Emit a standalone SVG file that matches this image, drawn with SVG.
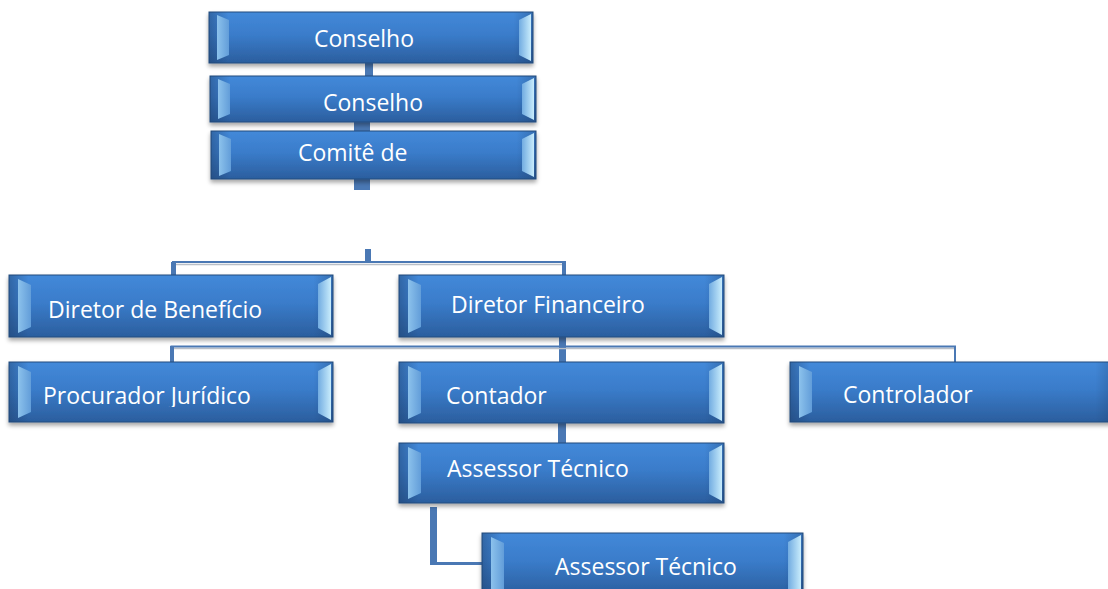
<svg xmlns="http://www.w3.org/2000/svg" width="1108" height="589" viewBox="0 0 1108 589">
<defs>
<linearGradient id="boxg" x1="0" y1="0" x2="0" y2="1">
<stop offset="0" stop-color="#4389d9"/>
<stop offset="0.45" stop-color="#3a7cca"/>
<stop offset="1" stop-color="#2b5e9e"/>
</linearGradient>
<linearGradient id="edgeg" x1="0" y1="0" x2="1" y2="0">
<stop offset="0" stop-color="#1e3f6a" stop-opacity="0.45"/>
<stop offset="0.06" stop-color="#1e3f6a" stop-opacity="0"/>
<stop offset="0.94" stop-color="#1e3f6a" stop-opacity="0"/>
<stop offset="1" stop-color="#1e3f6a" stop-opacity="0.35"/>
</linearGradient>
<linearGradient id="bevL" x1="0" y1="0" x2="1" y2="0">
<stop offset="0" stop-color="#8cc2ec"/>
<stop offset="1" stop-color="#629dd9"/>
</linearGradient>
<linearGradient id="bevR" x1="0" y1="0" x2="1" y2="0">
<stop offset="0" stop-color="#72ace1"/>
<stop offset="1" stop-color="#c8ecfc"/>
</linearGradient>
<filter id="sh" x="-5%" y="-20%" width="110%" height="150%">
<feDropShadow dx="0" dy="3" stdDeviation="2" flood-color="#000" flood-opacity="0.35"/>
</filter>
<clipPath id="clipProc"><rect x="0" y="362" width="340" height="45"/></clipPath>
</defs>
<style>
.box{fill:url(#boxg);stroke:#254d7e;stroke-width:1;filter:url(#sh)}
.edge{fill:url(#edgeg)}
.bl{fill:url(#bevL)}
.br{fill:url(#bevR)}
.t{font-family:"Open Sans","Noto Sans","DejaVu Sans",sans-serif;font-size:23px;fill:#ffffff}
.thick{fill:#4a78b4}
.thin{stroke:#4a78b4;stroke-width:2;fill:none}
.thinsh{stroke:#b9bfc8;stroke-width:1.5;fill:none}
</style>

<g id="connectors">
<rect class="thick" x="365" y="63" width="8" height="13"/>
<rect class="thick" x="354" y="122" width="16" height="9"/>
<rect class="thick" x="354" y="179" width="16" height="11"/>
<rect class="thick" x="365" y="249" width="6" height="13"/>
<path class="thinsh" d="M176 264.5 H563"/>
<path class="thin" d="M173 275 V262 H565 V275"/>
<rect class="thick" x="171" y="262" width="5" height="13"/>
<rect class="thick" x="562" y="262" width="4" height="13"/>
<rect class="thick" x="559" y="337" width="7" height="25"/>
<path class="thinsh" d="M174 348.5 H954"/>
<path class="thin" d="M171.5 362 V346.5 H955 V362"/>
<rect class="thick" x="170" y="346" width="4" height="16"/>
<rect class="thick" x="558" y="423" width="8" height="20"/>
<path class="thick" d="M430 507 H437 V562 H482 V565 H430 Z"/>
</g>

<g id="n1">
<rect class="box" x="209" y="12" width="324" height="51"/>
<rect class="edge" x="209" y="12" width="324" height="51"/>
<path class="bl" d="M217 15 L229 20 L229 55 L217 60 Z"/>
<path class="br" d="M531 14 L519 20 L519 55 L531 61 Z"/>
<text class="t" x="314" y="47">Conselho</text>
</g>
<g id="n2">
<rect class="box" x="210" y="76" width="326" height="46"/>
<rect class="edge" x="210" y="76" width="326" height="46"/>
<path class="bl" d="M218 79 L230 84 L230 114 L218 119 Z"/>
<path class="br" d="M534 78 L522 84 L522 114 L534 120 Z"/>
<text class="t" x="323" y="111">Conselho</text>
</g>
<g id="n3">
<rect class="box" x="211" y="131" width="325" height="48"/>
<rect class="edge" x="211" y="131" width="325" height="48"/>
<path class="bl" d="M219 134 L231 139 L231 171 L219 176 Z"/>
<path class="br" d="M534 133 L522 139 L522 171 L534 177 Z"/>
<text class="t" x="298" y="161">Comitê de</text>
</g>
<g id="n4">
<rect class="box" x="9" y="275" width="324" height="62"/>
<rect class="edge" x="9" y="275" width="324" height="62"/>
<path class="bl" d="M18 279 L31 285 L31 327 L18 333 Z"/>
<path class="br" d="M331 277 L318 284 L318 328 L331 335 Z"/>
<text class="t" x="48" y="318">Diretor de Benefício</text>
</g>
<g id="n5">
<rect class="box" x="399" y="275" width="325" height="62"/>
<rect class="edge" x="399" y="275" width="325" height="62"/>
<path class="bl" d="M408 279 L421 285 L421 327 L408 333 Z"/>
<path class="br" d="M722 277 L709 284 L709 328 L722 335 Z"/>
<text class="t" x="451" y="313">Diretor Financeiro</text>
</g>
<g id="n6">
<rect class="box" x="9" y="362" width="324" height="60"/>
<rect class="edge" x="9" y="362" width="324" height="60"/>
<path class="bl" d="M18 366 L31 372 L31 412 L18 418 Z"/>
<path class="br" d="M331 364 L318 371 L318 413 L331 420 Z"/>
<text class="t" x="43" y="404" clip-path="url(#clipProc)">Procurador Jurídico</text>
</g>
<g id="n7">
<rect class="box" x="399" y="362" width="325" height="61"/>
<rect class="edge" x="399" y="362" width="325" height="61"/>
<path class="bl" d="M408 366 L421 372 L421 413 L408 419 Z"/>
<path class="br" d="M722 364 L709 371 L709 414 L722 421 Z"/>
<text class="t" x="446" y="404">Contador</text>
</g>
<g id="n8">
<rect class="box" x="790" y="362" width="325" height="60"/>
<rect class="edge" x="790" y="362" width="325" height="60"/>
<path class="bl" d="M799 366 L812 372 L812 412 L799 418 Z"/>
<text class="t" x="843" y="403">Controlador</text>
</g>
<g id="n9">
<rect class="box" x="399" y="443" width="325" height="60"/>
<rect class="edge" x="399" y="443" width="325" height="60"/>
<path class="bl" d="M408 447 L421 453 L421 493 L408 499 Z"/>
<path class="br" d="M722 445 L709 452 L709 494 L722 501 Z"/>
<text class="t" x="447" y="477">Assessor Técnico</text>
</g>
<g id="n10">
<rect class="box" x="482" y="533" width="321" height="62"/>
<rect class="edge" x="482" y="533" width="321" height="62"/>
<path class="bl" d="M491 537 L504 543 L504 589 L491 589 Z"/>
<path class="br" d="M801 535 L788 542 L788 589 L801 589 Z"/>
<text class="t" x="555" y="575">Assessor Técnico</text>
</g>
</svg>
